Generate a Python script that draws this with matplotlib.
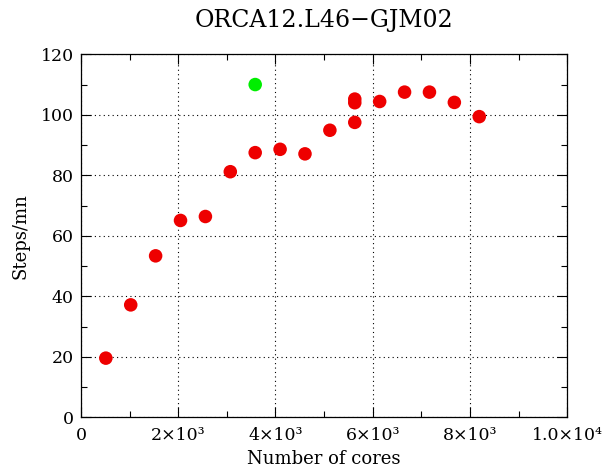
import matplotlib
matplotlib.use("Agg")
import matplotlib.pyplot as plt
from matplotlib.ticker import MultipleLocator

cores_red = [512, 1024, 1536, 2048, 2560, 3072, 3584, 4096, 4608, 5120,
             5632, 5632, 5632, 6144, 6656, 7168, 7680, 8192]
steps_red = [19.6, 37.2, 53.4, 65.1, 66.4, 81.2, 87.5, 88.6, 87.1, 94.9,
             97.5, 104.0, 105.2, 104.4, 107.5, 107.5, 104.1, 99.4]
cores_green = [3584]
steps_green = [110.0]

xticks = [0, 2000, 4000, 6000, 8000, 10000]
xticklabels = ['0', '2×10³', '4×10³', '6×10³', '8×10³', '1.0×10⁴']
yticks = [0, 20, 40, 60, 80, 100, 120]
yticklabels = ['0', '20', '40', '60', '80', '100', '120']

plt.rcParams['font.family'] = ['DejaVu Serif']

fig = plt.figure(figsize=(6.04, 4.68), dpi=100)
ax = fig.add_axes([0.134, 0.108, 0.805, 0.776])

ax.scatter(cores_red, steps_red, s=95, color='#ee0000', edgecolors='none', zorder=3)
ax.scatter(cores_green, steps_green, s=95, color='#00ee00', edgecolors='none', zorder=3)

ax.set_xlim(0, 10000)
ax.set_ylim(0, 120)
ax.set_xticks(xticks)
ax.set_xticklabels(xticklabels)
ax.set_yticks(yticks)
ax.set_yticklabels(yticklabels)
ax.xaxis.set_minor_locator(MultipleLocator(1000))
ax.yaxis.set_minor_locator(MultipleLocator(10))
ax.tick_params(which='both', direction='in', top=True, right=True, labelsize=12.5)
ax.tick_params(axis='x', which='major', pad=7)
ax.tick_params(axis='y', which='major', pad=5)
ax.tick_params(which='major', length=7, width=0.8)
ax.tick_params(which='minor', length=4, width=0.8)
ax.grid(True, which='major', linestyle=(0, (1, 3)), color='black', linewidth=0.8)
for sp in ax.spines.values():
    sp.set_linewidth(0.9)

ax.set_xlabel('Number of cores', fontsize=13, labelpad=4)
ax.set_ylabel('Steps/mn', fontsize=13, labelpad=8)
ax.set_title('ORCA12.L46\u2212GJM02', fontsize=17, pad=20)

fig.savefig('out.png', dpi=100)
